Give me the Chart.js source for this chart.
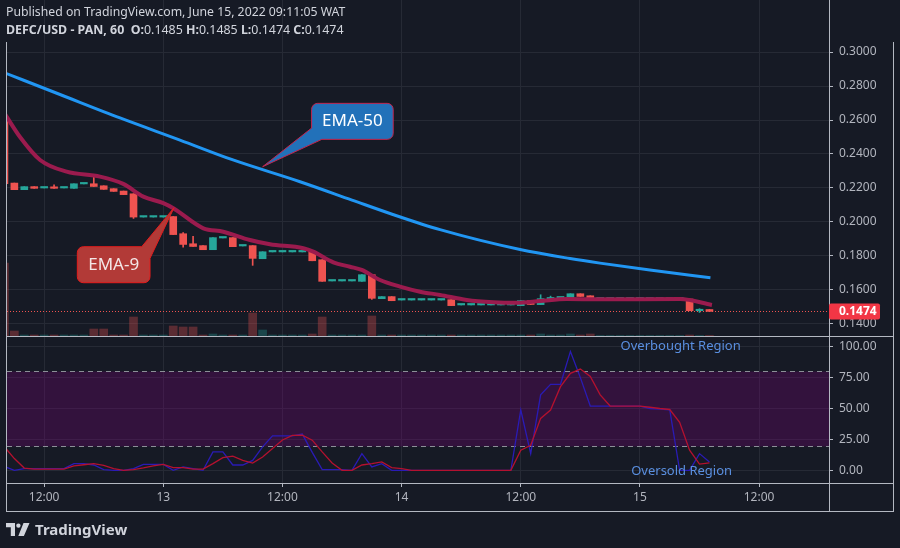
<!DOCTYPE html>
<html>
<head>
<meta charset="utf-8">
<script src="https://cdn.jsdelivr.net/npm/chart.js@4.4.1/dist/chart.umd.min.js"></script>
<style>
  html, body { margin: 0; padding: 0; background: #161a25; }
  #wrap { position: relative; width: 900px; height: 548px; overflow: hidden; background: #161a25; font-family: 'Noto Sans', sans-serif; }
  #top { position: absolute; left: 0; top: 0; width: 900px; height: 337px; }
  #bot { position: absolute; left: 0; top: 337px; width: 900px; height: 211px; }
  .hdr { position: absolute; left: 6px; color: #d1d4dc; font-size: 12.25px; line-height: 14px; white-space: nowrap; }
  .hdr b { font-weight: 700; }
  #brand { position: absolute; left: 6px; top: 521px; height: 16px; display: flex; align-items: center; color: #d1d4dc; font-weight: 700; font-size: 15px; }
  #brand svg { margin-right: 5px; }
</style>
</head>
<body>
<div id="wrap">
  <div id="top"><canvas id="priceChart"></canvas></div>
  <div id="bot"><canvas id="stochChart"></canvas></div>
  <div class="hdr" style="top:5px">Published on TradingView.com, June 15, 2022 09:11:05 WAT</div>
  <div class="hdr" style="top:23px;font-size:12.4px"><b>DEFC/USD - PAN, 60</b>&nbsp; <b>O:</b>0.1485 <b>H:</b>0.1485 <b>L:</b>0.1474 <b>C:</b>0.1474</div>
  <div id="brand">
    <svg width="24" height="13" viewBox="0 0 24 13"><path fill="#d1d4dc" d="M0 0h9v13h-4.2v-8.8h-4.8z M10.2 2.6a2.2 2.2 0 1 0 4.4 0a2.2 2.2 0 1 0 -4.4 0z M17.5 0h6l-5.6 13h-5.6z"/></svg>
    <span>TradingView</span>
  </div>
</div>
<script>
// hourly candles, first one at June 12 08:00 (hours counted from June 12 00:00)
const FIRST_HOUR = 8;

const OPEN = [0.2620,0.2229,0.2190,0.2208,0.2200,0.2202,0.2200,0.2198,0.2224,0.2225,
              0.2213,0.2196,0.2182,0.2166,0.2029,0.2029,0.2029,0.2032,0.1931,0.1872,
              0.1861,0.1837,0.1906,0.1908,0.1859,0.1861,0.1784,0.1824,0.1824,0.1824,
              0.1824,0.1827,0.1778,0.1653,0.1653,0.1653,0.1651,0.1690,0.1549,0.1561,
              0.1541,0.1541,0.1541,0.1541,0.1541,0.1543,0.1512,0.1512,0.1512,0.1512,
              0.1512,0.1512,0.1508,0.1537,0.1514,0.1545,0.1553,0.1549,0.1578,0.1566,
              0.1547,0.1547,0.1547,0.1547,0.1547,0.1547,0.1547,0.1547,0.1547,0.1547,
              0.1478,0.1485];
const HIGH = [0.2640,0.2229,0.2208,0.2208,0.2200,0.2218,0.2200,0.2225,0.2224,0.2274,
              0.2213,0.2196,0.2182,0.2166,0.2029,0.2029,0.2029,0.2032,0.1938,0.1915,
              0.1861,0.1908,0.1906,0.1908,0.1859,0.1861,0.1825,0.1824,0.1824,0.1824,
              0.1824,0.1827,0.1778,0.1653,0.1653,0.1653,0.1690,0.1690,0.1561,0.1561,
              0.1541,0.1541,0.1541,0.1541,0.1541,0.1543,0.1512,0.1512,0.1512,0.1512,
              0.1512,0.1512,0.1537,0.1537,0.1572,0.1564,0.1553,0.1578,0.1578,0.1566,
              0.1547,0.1547,0.1547,0.1547,0.1547,0.1547,0.1547,0.1547,0.1547,0.1547,
              0.1490,0.1485];
const LOW  = [0.2215,0.2190,0.2190,0.2198,0.2200,0.2198,0.2200,0.2198,0.2224,0.2209,
              0.2192,0.2180,0.2161,0.2021,0.2029,0.2029,0.2029,0.1926,0.1852,0.1856,
              0.1837,0.1837,0.1906,0.1855,0.1859,0.1745,0.1784,0.1824,0.1824,0.1824,
              0.1824,0.1772,0.1651,0.1653,0.1653,0.1653,0.1651,0.1545,0.1549,0.1537,
              0.1541,0.1541,0.1541,0.1541,0.1541,0.1508,0.1512,0.1512,0.1512,0.1512,
              0.1512,0.1512,0.1508,0.1515,0.1514,0.1545,0.1553,0.1549,0.1562,0.1545,
              0.1547,0.1547,0.1547,0.1547,0.1547,0.1547,0.1547,0.1547,0.1547,0.1478,
              0.1468,0.1474];
const CLOSE = [0.2225,0.2190,0.2208,0.2198,0.2200,0.2198,0.2200,0.2225,0.2224,0.2209,
               0.2192,0.2180,0.2161,0.2029,0.2029,0.2029,0.2029,0.1926,0.1868,0.1856,
               0.1837,0.1908,0.1906,0.1855,0.1859,0.1786,0.1825,0.1824,0.1824,0.1824,
               0.1824,0.1772,0.1651,0.1653,0.1653,0.1653,0.1690,0.1551,0.1561,0.1537,
               0.1541,0.1541,0.1541,0.1541,0.1541,0.1508,0.1512,0.1512,0.1512,0.1512,
               0.1512,0.1512,0.1537,0.1515,0.1549,0.1556,0.1553,0.1578,0.1562,0.1545,
               0.1547,0.1547,0.1547,0.1547,0.1547,0.1547,0.1547,0.1547,0.1547,0.1478,
               0.1485,0.1474];
// volume, thousands (rough)
const VOLUME = [74,6,2,2,2,2,2,2,2,8, 8,2,2,20,2,2,2,11,10,10,
                2,3,2,2,2,24,7,2,2,2, 2,3,20,2,2,2,2,21,2,2,
                2,2,2,2,2,2,2,2,2,2, 2,2,2,2,3,2,2,3,2,3,
                1.5,1.5,1.5,1.5,1.5,1.5,1.5,1.5,1.5,2, 1.5,1.5];

// moving averages
const EMA50_HOURS = [8, 13.6, 19.64, 25.68, 31.02, 37.77, 43.0, 46.83, 51.87, 59.93, 64.96, 67.98, 73.0, 79.1];
const EMA50 = [0.2878, 0.2750, 0.2612, 0.2482, 0.2365, 0.2237, 0.2129, 0.2050, 0.1955, 0.1838, 0.1785, 0.1758, 0.1718, 0.1672];
const EMA9_HOURS = [8, 9.57, 11.59, 14.27, 17.63, 19.97, 21.99, 24.0, 25.01, 28.03, 30.04, 32.73, 34.74, 38.1, 39.1,
                    41.12, 42.8, 43.98, 45.82, 47.84, 49.85, 51.87, 54.56, 57.24, 59.6, 61.93, 64.62, 68.0, 76.04, 79.25];
const EMA9 = [0.2640, 0.2500, 0.2365, 0.2296, 0.2267, 0.2224, 0.2149, 0.2111, 0.2081, 0.1963, 0.1943, 0.1894, 0.1869, 0.1846, 0.1826,
              0.1763, 0.1737, 0.1718, 0.1659, 0.1620, 0.1590, 0.1571, 0.1541, 0.1528, 0.1525, 0.1535, 0.1547, 0.1545, 0.1547, 0.1512];

// stochastic RSI
const STOCH_K = [3,0,1.3,1.3,1.3,1.3,1.3,5.4,5.4,4.3,
                 0.6,0,0,1.3,4.8,4.8,4.8,0,2.7,1.3,
                 0,14.9,14.9,4.3,4.3,8,19,27.9,27.9,27.9,
                 29.3,14.5,0.6,0.6,0.6,0,13.5,2.7,5.4,0,
                 0,0,0,0,0,0,0,0,0,0,
                 0,0,48.8,13.5,61,69.6,69.6,96.2,75,52,
                 52,52,52,52,52,50,49.5,49,0,0,
                 13.5,6.8];
const STOCH_D = [19,9.5,1.8,1,1,1,1,3.5,4.5,5.4,
                 4,1.3,0,0.6,1.9,3.5,4.8,2.2,2.2,1,
                 1,5.4,10.3,11.4,8,5.9,10.8,17.6,24.5,28.2,
                 28.5,24.4,14.9,5.9,0,0,4.3,5.4,6.8,2.2,
                 1.3,0,0,0,0,0,0,0,0,0,
                 0,0,16.3,20.3,42,48.8,67.7,78.5,81.9,75.9,
                 61,52,52,52,52,51,50,49.2,38.8,16.3,
                 5,6];
const STOCH_BAND = [20, 80];

const TICK_HOURS = [12, 24, 36, 48, 60, 72, 84];
const TICK_LABELS = ['12:00', '13', '12:00', '14', '12:00', '15', '12:00'];
const PRICE_TICKS = [0.14, 0.16, 0.18, 0.20, 0.22, 0.24, 0.26, 0.28, 0.30];
const STOCH_TICKS = [0, 25, 50, 75, 100];

const CALLOUTS = [
    { text: 'EMA-50', hour: 34.0, price: 0.2325, dx: 49, dy: -63.4, w: 81.6, h: 36, corner: 'bl', a: 24.7, b: 10.3,
      fill: '#2271b9', stroke: '#c4254e', color: '#ffffff' },
    { text: 'EMA-9', hour: 25.08, price: 0.2084, dx: -96.7, dy: 39, w: 72.7, h: 36, corner: 'tr', a: 64.4, b: 11.6,
      fill: '#b23a37', stroke: '#e41d1d', color: '#f3e6e6' }
];
const STOCH_NOTES = [
    { text: 'Overbought Region', hour: 76.1, value: 100.6 },
    { text: 'Oversold Region', hour: 76.2, value: -0.6 }
];

const X_MIN = 8.26, X_MAX = 91.04;
const UP = '#26a69a', DOWN = '#ef5350';
const GRID = '#262a35';
const FRAME = '#b4b8c2';
const LABEL = '#b2b5be';
const FONT = { family: "'Noto Sans', sans-serif", size: 12 };

const hours = OPEN.map((_, i) => FIRST_HOUR + i);
const candleColor = OPEN.map((o, i) => CLOSE[i] < o ? DOWN : UP);
const volColor = OPEN.map((o, i) => CLOSE[i] < o ? 'rgba(239,83,80,0.32)' : 'rgba(38,166,154,0.32)');
const lastClose = CLOSE[CLOSE.length - 1];

function xAxis(showLabels) {
    return {
        type: 'linear', min: X_MIN, max: X_MAX, offset: false,
        afterBuildTicks: s => { s.ticks = TICK_HOURS.map(v => ({ value: v })); },
        ticks: {
            display: showLabels, autoSkip: false, maxRotation: 0, color: LABEL, font: FONT, padding: 3,
            callback: (v, i) => TICK_LABELS[i]
        },
        grid: { color: GRID, offset: false, drawTicks: showLabels, tickLength: 4, tickColor: FRAME },
        border: { display: showLabels, color: FRAME },
        afterFit: s => { s.height = showLabels ? 28 : 0; s.paddingLeft = 0; s.paddingRight = 0; }
    };
}

function yAxis(min, max, ticks, digits) {
    return {
        position: 'right', min: min, max: max,
        afterBuildTicks: s => { s.ticks = ticks.map(v => ({ value: v })); },
        ticks: { color: LABEL, font: FONT, padding: 6, callback: v => v.toFixed(digits) },
        grid: { color: GRID, tickLength: 4, tickColor: FRAME },
        border: { display: true, color: FRAME },
        afterFit: s => { s.width = 71; s.paddingTop = 0; s.paddingBottom = 0; }
    };
}

function calloutPath(ctx, c, tx, ty) {
    const bx = tx + c.dx, by = ty + c.dy, w = c.w, h = c.h, r = 6;
    ctx.beginPath();
    ctx.moveTo(bx + r, by);
    if (c.corner === 'tr') {
        ctx.lineTo(bx + c.a, by);
        ctx.lineTo(tx, ty);
        ctx.lineTo(bx + w, by + c.b);
    } else {
        ctx.lineTo(bx + w - r, by);
        ctx.arcTo(bx + w, by, bx + w, by + r, r);
    }
    ctx.lineTo(bx + w, by + h - r);
    ctx.arcTo(bx + w, by + h, bx + w - r, by + h, r);
    if (c.corner === 'bl') {
        ctx.lineTo(bx + c.b, by + h);
        ctx.lineTo(tx, ty);
        ctx.lineTo(bx, by + c.a);
    } else {
        ctx.lineTo(bx + r, by + h);
        ctx.arcTo(bx, by + h, bx, by + h - r, r);
    }
    ctx.lineTo(bx, by + r);
    ctx.arcTo(bx, by, bx + r, by, r);
    ctx.closePath();
    return { cx: bx + w / 2, cy: by + h / 2 };
}

const priceOverlay = {
    id: 'priceOverlay',
    beforeDatasetsDraw(chart) {
        const ctx = chart.ctx;
        ctx.save();
        ctx.strokeStyle = FRAME;
        ctx.lineWidth = 1;
        ctx.beginPath();
        ctx.moveTo(6.5, 42); ctx.lineTo(6.5, chart.height);
        ctx.moveTo(893.5, 42); ctx.lineTo(893.5, chart.height);
        ctx.stroke();
        ctx.restore();
    },
    afterDatasetsDraw(chart) {
        const ctx = chart.ctx, a = chart.chartArea;
        const y = Math.round(chart.scales.y.getPixelForValue(lastClose)) + 0.5;
        ctx.save();
        ctx.strokeStyle = DOWN;
        ctx.lineWidth = 1;
        ctx.setLineDash([1, 2]);
        ctx.beginPath();
        ctx.moveTo(a.left, y); ctx.lineTo(a.right, y);
        ctx.stroke();
        ctx.restore();
    },
    afterDraw(chart) {
        const ctx = chart.ctx, a = chart.chartArea;
        const xs = chart.scales.x, ys = chart.scales.y;
        ctx.save();
        // last price label
        const y = ys.getPixelForValue(lastClose);
        ctx.fillStyle = '#f23645';
        ctx.beginPath();
        ctx.roundRect(a.right, y - 8, 51, 16, 2);
        ctx.fill();
        ctx.fillStyle = '#ffffff';
        ctx.font = "bold 12px 'Noto Sans', sans-serif";
        ctx.textBaseline = 'middle';
        ctx.fillText(lastClose.toFixed(4), a.right + 10, y + 0.5);
        // separator between panes
        ctx.strokeStyle = FRAME;
        ctx.lineWidth = 1;
        ctx.beginPath();
        ctx.moveTo(6, chart.height - 0.5); ctx.lineTo(894, chart.height - 0.5);
        ctx.stroke();
        // callouts
        CALLOUTS.forEach(c => {
            const tx = xs.getPixelForValue(c.hour), ty = ys.getPixelForValue(c.price);
            const m = calloutPath(ctx, c, tx, ty);
            ctx.fillStyle = c.fill;
            ctx.fill();
            ctx.strokeStyle = c.stroke;
            ctx.lineWidth = 1;
            ctx.stroke();
            ctx.fillStyle = c.color;
            ctx.font = "17px 'Noto Sans', sans-serif";
            ctx.textAlign = 'center';
            ctx.textBaseline = 'middle';
            ctx.fillText(c.text, m.cx, m.cy);
        });
        ctx.restore();
    }
};

new Chart(document.getElementById('priceChart'), {
    type: 'line',
    data: {
        datasets: [
            { type: 'line', label: 'EMA-9', order: 0, data: EMA9_HOURS.map((h, i) => ({ x: h, y: EMA9[i] })),
              borderColor: '#9b1b4e', borderWidth: 4, pointRadius: 0, cubicInterpolationMode: 'monotone' },
            { type: 'line', label: 'EMA-50', order: 1, data: EMA50_HOURS.map((h, i) => ({ x: h, y: EMA50[i] })),
              borderColor: '#2196f3', borderWidth: 3, pointRadius: 0, cubicInterpolationMode: 'monotone' },
            { type: 'bar', label: 'Body', order: 2, grouped: false, barThickness: 7, minBarLength: 1.5,
              data: hours.map((h, i) => ({ x: h, y: [OPEN[i], CLOSE[i]] })), backgroundColor: candleColor },
            { type: 'bar', label: 'Wick', order: 3, grouped: false, barThickness: 1,
              data: hours.map((h, i) => ({ x: h, y: [LOW[i], HIGH[i]] })), backgroundColor: candleColor },
            { type: 'bar', label: 'Volume', order: 4, grouped: false, barThickness: 8, yAxisID: 'yv',
              data: hours.map((h, i) => ({ x: h, y: VOLUME[i] })), backgroundColor: volColor }
        ]
    },
    options: {
        responsive: true, maintainAspectRatio: false, animation: false, events: [],
        layout: { padding: { left: 7, right: 0, top: 0, bottom: 0 } },
        plugins: { legend: { display: false }, tooltip: { enabled: false } },
        scales: {
            x: xAxis(false),
            y: yAxis(0.13235, 0.33059, PRICE_TICKS, 4),
            yv: { display: false, min: 0, max: 337 }
        }
    },
    plugins: [priceOverlay]
});

const stochOverlay = {
    id: 'stochOverlay',
    beforeDatasetsDraw(chart) {
        const ctx = chart.ctx, a = chart.chartArea, ys = chart.scales.y;
        const yHi = Math.round(ys.getPixelForValue(STOCH_BAND[1])) + 0.5;
        const yLo = Math.round(ys.getPixelForValue(STOCH_BAND[0])) + 0.5;
        ctx.save();
        ctx.fillStyle = 'rgba(120,0,120,0.3)';
        ctx.fillRect(a.left, yHi, a.right - a.left, yLo - yHi);
        ctx.strokeStyle = '#8c8f98';
        ctx.lineWidth = 1;
        ctx.setLineDash([5, 4]);
        ctx.beginPath();
        ctx.moveTo(a.left, yHi); ctx.lineTo(a.right, yHi);
        ctx.moveTo(a.left, yLo); ctx.lineTo(a.right, yLo);
        ctx.stroke();
        ctx.restore();
    },
    afterDraw(chart) {
        const ctx = chart.ctx, a = chart.chartArea;
        const xs = chart.scales.x, ys = chart.scales.y;
        ctx.save();
        ctx.fillStyle = '#5a8fe0';
        ctx.font = "13px 'Noto Sans', sans-serif";
        ctx.textAlign = 'center';
        ctx.textBaseline = 'middle';
        STOCH_NOTES.forEach(n => ctx.fillText(n.text, xs.getPixelForValue(n.hour), ys.getPixelForValue(n.value)));
        // frame
        const bottom = a.bottom + 28.5;
        ctx.strokeStyle = FRAME;
        ctx.lineWidth = 1;
        ctx.beginPath();
        ctx.moveTo(6, a.bottom + 0.5); ctx.lineTo(894, a.bottom + 0.5);
        ctx.moveTo(6, bottom); ctx.lineTo(894, bottom);
        ctx.moveTo(6.5, 0); ctx.lineTo(6.5, bottom);
        ctx.moveTo(a.right + 0.5, a.bottom); ctx.lineTo(a.right + 0.5, bottom);
        ctx.moveTo(893.5, 0); ctx.lineTo(893.5, bottom);
        ctx.stroke();
        ctx.restore();
    }
};

new Chart(document.getElementById('stochChart'), {
    type: 'line',
    data: {
        datasets: [
            { label: '%D', order: 0, data: hours.map((h, i) => ({ x: h, y: STOCH_D[i] })),
              borderColor: '#b4112f', borderWidth: 1.3, pointRadius: 0 },
            { label: '%K', order: 1, data: hours.map((h, i) => ({ x: h, y: STOCH_K[i] })),
              borderColor: '#2a1bb5', borderWidth: 1.3, pointRadius: 0 }
        ]
    },
    options: {
        responsive: true, maintainAspectRatio: false, animation: false, events: [],
        layout: { padding: { left: 7, right: 0, top: 0, bottom: 37 } },
        plugins: { legend: { display: false }, tooltip: { enabled: false } },
        scales: {
            x: xAxis(true),
            y: yAxis(-10.27, 107.85, STOCH_TICKS, 2)
        }
    },
    plugins: [stochOverlay]
});
</script>
</body>
</html>
